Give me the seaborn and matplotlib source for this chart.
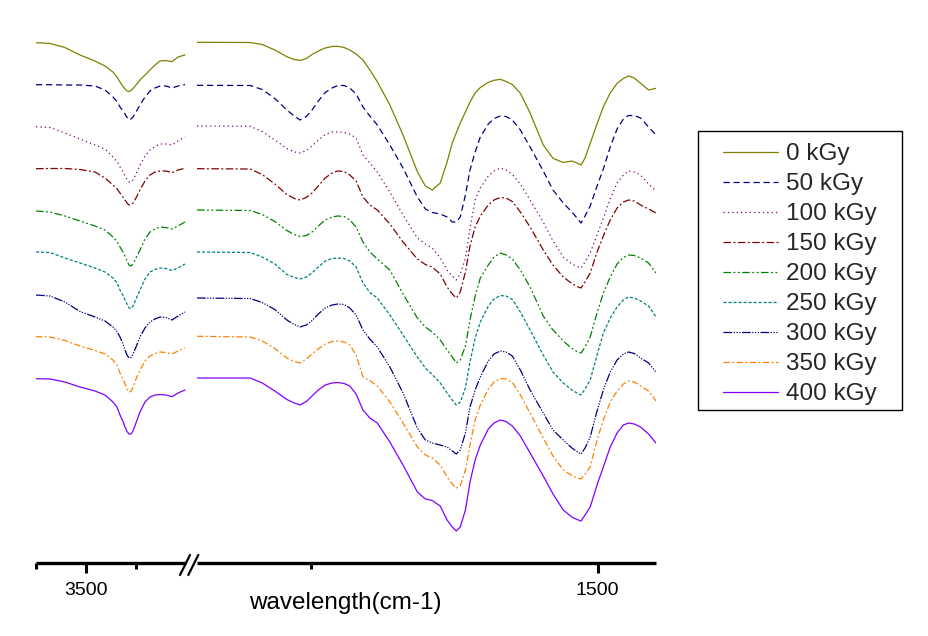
import numpy as np
import pandas as pd
import matplotlib
matplotlib.use("Agg")
import matplotlib.pyplot as plt
import seaborn as sns
from matplotlib.patches import Rectangle
from matplotlib.lines import Line2D

sns.set_theme(style="white")
plt.rcParams['font.family'] = ['Liberation Sans', 'DejaVu Sans']

# ---------------- data (stacked FTIR traces, offset units: larger = lower) ----
doses = ["0 kGy", "50 kGy", "100 kGy", "150 kGy", "200 kGy",
         "250 kGy", "300 kGy", "350 kGy", "400 kGy"]

left_wn = [3750, 3680, 3605, 3530, 3455, 3405, 3365, 3345, 3330, 3315,
           3305, 3295, 3285, 3275, 3265, 3250, 3230, 3205, 3180, 3155,
           3130, 3100, 3070, 3040, 3005]

right_wn = [2200, 2107, 2086, 2064, 2043, 2030, 2020, 2009, 1999, 1988,
            1976, 1964, 1954, 1943, 1933, 1922, 1910, 1898, 1885, 1863,
            1840, 1815, 1801, 1789, 1775, 1763, 1754, 1747, 1740, 1731,
            1723, 1714, 1705, 1691, 1681, 1670, 1660, 1649, 1635, 1618,
            1595, 1578, 1560, 1545, 1536, 1529, 1522, 1513, 1501, 1490,
            1478, 1466, 1455, 1446, 1436, 1425, 1411, 1398]

left_0 = [42.7, 43.5, 47.5, 55, 61, 66, 72, 77, 82, 86.5,
          89, 91, 91.5, 90.5, 88.5, 85, 80, 75, 70, 65,
          61, 60.5, 61.7, 57, 55]
left_50 = [84.7, 84.7, 85, 85, 86, 90, 97, 101.5, 107, 111,
           114, 117.5, 120, 119, 117, 112, 105, 97, 91, 88,
           86, 86, 88, 86, 84.5]
left_100 = [126.7, 127.5, 133, 139, 145, 149, 157, 161.5, 167, 172,
            176, 179.5, 182, 182, 180, 174, 165, 156, 150, 146.5,
            144, 144, 145, 141, 137]
left_150 = [168.7, 168.5, 168.5, 169.5, 172, 178, 185, 189, 193, 197,
            200, 203, 205, 204.5, 203, 198, 190, 181, 175, 172,
            171, 171, 172.7, 170, 168.3]
left_200 = [211, 212, 216, 221, 226, 230, 237, 241.5, 247, 252,
            256, 261, 265, 266, 264, 258, 250, 239, 232, 229,
            227, 227.5, 229, 226, 222]
left_250 = [252, 252.5, 258, 263, 268, 272, 278, 283, 290, 295.5,
            300, 304, 308, 308.5, 306, 299, 290, 279, 272, 269.5,
            268, 268.5, 270.5, 268, 264]
left_300 = [295, 296, 302, 311.5, 317, 321, 327, 331.5, 337, 344,
            350, 355, 358, 357.5, 354, 347, 337, 328, 322, 319,
            317, 317.5, 320, 316, 312]
left_350 = [336.7, 337, 340.5, 346, 350.5, 354, 360, 365, 373, 379,
            384, 389, 392, 391.5, 387, 379, 370, 361, 356, 353.5,
            352, 352.5, 354, 351, 348]
left_400 = [378.7, 379, 382, 387, 391, 395, 402, 407, 415, 421.5,
            427, 431.5, 434, 434, 431, 423, 412, 402, 397, 395,
            394.5, 395, 396.7, 393, 390]

right_0 = [42.3, 42.5, 44.5, 50, 56.7, 59.5, 60.5, 58.5, 54.5, 51,
           48, 46.5, 46.3, 47.5, 50, 54, 60, 70, 81.7, 105,
           135, 171.7, 186, 190, 183, 162, 143, 133, 123, 112,
           102, 93, 87.5, 82.3, 80.3, 79.3, 81.5, 84.5, 93.3, 113,
           145, 158.3, 162.5, 161, 163, 165, 158, 143.3, 124, 106.7,
           93, 83.3, 78.5, 76, 78, 83.3, 90, 88.3]
right_50 = [85.3, 85.5, 89.5, 98.5, 110, 116, 120, 116.5, 110, 101,
            92.5, 88, 85.5, 85.5, 88, 94, 107, 116, 125, 145,
            168, 197, 209, 212.5, 214, 217, 222, 222, 217, 195,
            170, 152, 137, 124, 118.5, 116, 116.5, 120, 130, 147,
            171, 190, 203, 212, 218, 223, 216, 206, 186, 169,
            147, 129, 119, 115.5, 115.5, 118, 127, 135]
right_100 = [126, 126.3, 131.5, 140, 148.5, 152, 153, 150.5, 146, 140,
             134.5, 132, 132, 132.5, 134, 138, 155, 163, 172, 192,
             215, 238, 244, 248, 258, 270, 276, 280, 274, 258,
             228, 200, 188, 176, 171, 168, 170, 174.5, 184, 200,
             222, 241, 257, 264, 266.5, 268, 262, 253, 235, 218,
             199, 183, 175, 171, 172, 175, 184, 191]
right_150 = [168.7, 169, 174.5, 184, 194.5, 198.5, 200, 197.5, 193, 186,
             178, 173, 171, 171.5, 175, 181, 197, 205, 210, 224,
             242, 259, 264.5, 267, 274, 287, 294, 298, 292, 272,
             246, 227, 216, 205, 200, 197.5, 198, 201.5, 212, 227,
             250, 265, 277, 283.5, 286.5, 288, 282, 273, 252, 236,
             220, 208, 202, 200, 201, 205, 209, 213]
right_200 = [210, 210.5, 214.5, 221.5, 230.5, 234.5, 236.5, 235.5, 232, 226,
             220, 217, 216, 216.5, 220, 227, 242, 252, 259, 270,
             294, 318, 327, 332, 340, 350, 357, 363, 360, 346,
             320, 296, 278, 265, 257, 253, 255, 259, 270, 287,
             316, 330, 341, 348.5, 351.5, 353, 347, 337, 313, 293,
             277, 264, 257.5, 255, 255.5, 258, 263, 273]
right_250 = [252, 252.5, 257, 264, 274.5, 277.5, 279, 277, 273, 267,
             261, 258.5, 258, 258.5, 261, 267, 283, 292.5, 298, 315,
             335, 357, 368, 374.5, 383, 393, 400, 405, 402, 388,
             362, 338, 322, 306, 299, 295.5, 296, 299.5, 312, 330,
             355, 372, 383, 390, 393, 395, 389, 380, 355, 333,
             318, 307, 300, 297, 298, 301, 306, 317]
right_300 = [298, 298.5, 302.5, 309.5, 320, 324.5, 327, 325, 320.5, 314,
             308, 305, 304, 304.5, 308, 315, 330, 339, 347, 367,
             393, 428, 440, 443, 445, 447, 451, 454, 450, 433,
             407, 390, 377, 361, 354, 351, 352, 356, 370, 390,
             413, 430, 440, 448, 451.5, 454, 448, 437, 411, 390,
             372, 360, 354, 352, 353.5, 358, 363, 372]
right_350 = [336.3, 337, 341, 348.5, 358, 361.5, 363, 359, 354, 349,
             344, 341.5, 341, 342, 345, 355, 377, 380.5, 386, 402,
             423, 447, 455, 458, 465, 477, 484, 488, 486, 470,
             445, 420, 405, 389, 382, 378.5, 379, 382.5, 395, 413,
             438, 456, 470, 475.5, 478, 479, 474, 467, 440, 420,
             402, 391, 384, 381, 382, 386, 391, 401]
right_400 = [378, 378, 383, 391, 399.5, 403, 405, 401.5, 396, 390,
             385, 383, 382.5, 383.5, 386, 394, 410, 418, 423, 442,
             465, 492, 499, 500.5, 506, 520, 527, 531, 527, 510,
             482, 460, 445, 429, 423, 420, 421.5, 426, 436, 453,
             476, 494, 510, 517, 519.5, 521, 515, 507, 485, 467,
             447, 433, 425, 423, 424, 427, 434, 443]

left_traces = [left_0, left_50, left_100, left_150, left_200, left_250, left_300, left_350, left_400]
right_traces = [right_0, right_50, right_100, right_150, right_200, right_250, right_300, right_350, right_400]

colors = {"0 kGy": "#808000", "50 kGy": "#000080", "100 kGy": "#800080",
          "150 kGy": "#800000", "200 kGy": "#008000", "250 kGy": "#008080",
          "300 kGy": "#000080", "350 kGy": "#FF8000", "400 kGy": "#8000FF"}
dashes = {"0 kGy": "", "50 kGy": (5, 3), "100 kGy": (1, 2.5),
          "150 kGy": (6, 2, 1.5, 2), "200 kGy": (6, 2, 1.5, 2, 1.5, 2),
          "250 kGy": (2.5, 1.5), "300 kGy": (7, 1.2, 1, 1.2, 1, 1.2, 1, 1.2),
          "350 kGy": (5, 2, 1.5, 2), "400 kGy": ""}


def long_df(wn, traces):
    rows = []
    for d, tr in zip(doses, traces):
        for w, v in zip(wn, tr):
            rows.append((d, w, v))
    return pd.DataFrame(rows, columns=["dose", "wavenumber", "offset"])


dfL = long_df(left_wn, left_traces)
dfR = long_df(right_wn, right_traces)

# ---------------- figure ----------------
W, H = 929, 636
fig = plt.figure(figsize=(W / 100, H / 100), dpi=100)
fig.patch.set_facecolor("white")


def fx(px):
    return px / W


def fy(py):
    return 1 - py / H


axL = fig.add_axes([fx(36), fy(563), fx(186) - fx(36), fy(20) - fy(563)])
axR = fig.add_axes([fx(197), fy(563), fx(656) - fx(197), fy(20) - fy(563)])

for ax, df in ((axL, dfL), (axR, dfR)):
    sns.lineplot(data=df, x="wavenumber", y="offset", hue="dose", style="dose",
                 hue_order=doses, style_order=doses, palette=colors,
                 dashes=dashes, sort=False, estimator=None, lw=0.9,
                 legend=False, ax=ax)
    for ln in ax.get_lines():
        ln.set_solid_joinstyle("round")
        ln.set_dash_joinstyle("round")
    ax.set_ylim(563, 20)
    ax.set_yticks([])
    ax.set_xlabel("")
    ax.set_ylabel("")
    ax.set_facecolor("none")
    for s in ["left", "top", "right"]:
        ax.spines[s].set_visible(False)
    ax.spines["bottom"].set_linewidth(2.4)
    ax.spines["bottom"].set_color("black")
    ax.spines["bottom"].set_capstyle("butt")
    ax.tick_params(axis="x", which="major", direction="out", length=7.5, width=2.2,
                   labelsize=14, pad=6.5, bottom=True, color="black", labelcolor="black")
    ax.tick_params(axis="x", which="minor", direction="out", length=4.5, width=2.2,
                   bottom=True, color="black")

axL.set_xlim(3750, 3000)
axL.set_xticks([3500])
axL.set_xticks([3750, 3250], minor=True)
axR.set_xlim(2200, 1398)
axR.set_xticks([1500])
axR.set_xticks([2000], minor=True)

# axis break marks
for x0 in (180, 188.3):
    fig.add_artist(Line2D([fx(x0), fx(x0 + 10)], [fy(575), fy(555)],
                          transform=fig.transFigure, color="black", lw=1.6))

fig.text(fx(345), fy(603), "wavelength(cm-1)", ha="center", va="center",
         fontsize=17.5, color="black")

# legend
fig.add_artist(Rectangle((fx(698), fy(410)), fx(902) - fx(698), fy(131) - fy(410),
                         transform=fig.transFigure, fill=False, ec="black", lw=1.0))
handles = axR.get_lines()[:len(doses)]
fig.legend(handles=handles, labels=doses, loc="upper left",
           bbox_to_anchor=(fx(723), fy(143)), frameon=False, fontsize=17.5,
           handlelength=2.25, handletextpad=0.35, labelspacing=0.33,
           borderpad=0, borderaxespad=0)

fig.savefig("out.png", dpi=100, facecolor="white")
